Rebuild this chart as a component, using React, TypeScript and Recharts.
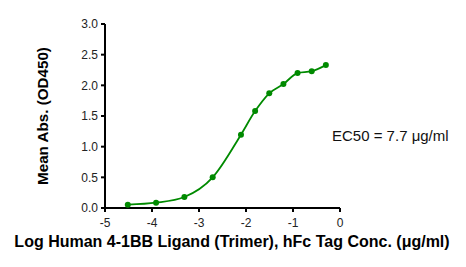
import React from "react";
import { LineChart, Line, XAxis, YAxis } from "recharts";

// log10 concentration (µg/ml) and mean OD450
const logConc = [-4.515, -3.913, -3.311, -2.709, -2.107, -1.806, -1.505, -1.204, -0.903, -0.602, -0.301];
const meanAbs = [0.055, 0.087, 0.18, 0.5, 1.195, 1.58, 1.87, 2.02, 2.2, 2.23, 2.33];
const xTicks = [-5, -4, -3, -2, -1, 0];
const yTicks = [0, 0.5, 1, 1.5, 2, 2.5, 3];

const data = logConc.map((x, i) => ({ x, y: meanAbs[i] }));

const green = "#008a00";
const font = "'Liberation Sans', Arial, sans-serif";

const App: React.FC = () => {
  return (
    <div style={{ position: "absolute", left: 0, top: 0, width: 466, height: 267, background: "#fff", fontFamily: font }}>
      <LineChart width={466} height={267} data={data} margin={{ top: 24, right: 126, bottom: 39, left: 0 }}>
        <XAxis
          dataKey="x"
          type="number"
          domain={[-5, 0]}
          ticks={xTicks}
          height={20}
          tickSize={4}
          tickMargin={6}
          stroke="#000"
          strokeWidth={2}
          tick={{ fill: "#222", fontSize: 12, fontFamily: font }}
          allowDataOverflow
        />
        <YAxis
          type="number"
          domain={[0, 3]}
          ticks={yTicks}
          width={105}
          tickSize={4}
          tickMargin={3}
          stroke="#000"
          strokeWidth={2}
          tickFormatter={(v: number) => v.toFixed(1)}
          tick={{ fill: "#222", fontSize: 12, fontFamily: font }}
        />
        <Line
          type="monotone"
          dataKey="y"
          stroke={green}
          strokeWidth={1.8}
          dot={{ r: 3, fill: green, stroke: green, strokeWidth: 0 }}
          isAnimationActive={false}
        />
      </LineChart>
      <div
        style={{
          position: "absolute",
          left: 42,
          top: 116,
          transform: "translate(-50%, -50%) rotate(-90deg)",
          whiteSpace: "nowrap",
          fontWeight: "bold",
          fontSize: 15.2,
          color: "#000",
        }}
      >
        Mean Abs. (OD450)
      </div>
      <div
        style={{
          position: "absolute",
          left: 232,
          top: 242,
          transform: "translate(-50%, -50%)",
          whiteSpace: "nowrap",
          fontWeight: "bold",
          fontSize: 16,
          color: "#000",
        }}
      >
        Log Human 4-1BB Ligand (Trimer), hFc Tag Conc. (μg/ml)
      </div>
      <div
        style={{
          position: "absolute",
          left: 332,
          top: 135,
          transform: "translateY(-50%)",
          whiteSpace: "nowrap",
          fontSize: 15,
          color: "#111",
        }}
      >
        EC50 = 7.7 μg/ml
      </div>
    </div>
  );
};

export default App;
